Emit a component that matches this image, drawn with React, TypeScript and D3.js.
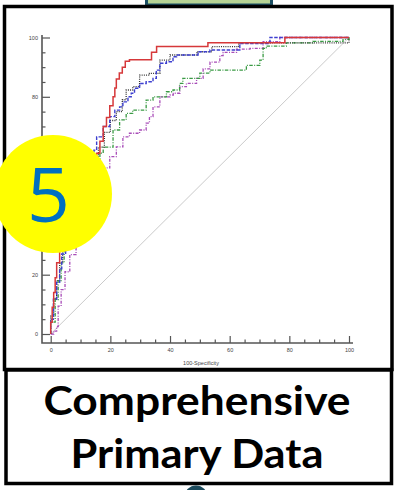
import { useEffect, useRef } from "react";
import * as d3 from "d3";

// ROC curves, [100-specificity, sensitivity]
const redCurve = [
    [0, 0], [0, 4], [0.5, 9], [1, 14], [1.5, 19], [2, 24], [3, 30], [4, 36], [5, 41], [6.5, 46],
    [8, 50], [10, 54], [12, 57], [14, 59], [15.4, 61], [16.5, 65], [17.6, 70], [18.7, 73],
    [19.8, 77], [20.9, 80], [21.5, 83], [22, 86], [23, 88], [24, 90], [25, 92], [26.4, 92.5],
    [33.8, 95], [35.5, 97], [52.7, 98.2], [78.5, 100], [100, 100]
];

const blueCurve = [
    [0, 0], [0, 5], [0.9, 11.7], [2, 17.4], [3, 22], [3.7, 27], [5, 33], [6, 38], [7.5, 43],
    [9, 48], [11, 53], [13, 58], [14.5, 62], [15.4, 66.5], [17.6, 70], [19.8, 73.3], [21.5, 75.5],
    [23.1, 76.6], [24.2, 78.3], [25.9, 80], [27, 81.2], [28.1, 82.9], [29.8, 84.5], [32, 85.1],
    [34.3, 86.2], [35.4, 89], [36.6, 91.3], [38.8, 91.8], [41, 93.5], [42.2, 94.1], [49.4, 95.2],
    [53.4, 95.8], [63.4, 98], [73.5, 100], [100, 100]
];

const blackCurve = [
    [0, 0], [0, 6], [1, 12], [2, 18], [3, 24], [4, 30], [5, 35], [6.5, 40], [8, 45], [10, 50],
    [12, 55], [14, 59], [16, 63], [18, 68], [20, 72], [22, 75], [24, 79], [25.3, 82.3],
    [27.5, 83.4], [29.8, 87.3], [33.1, 87.9], [36.6, 92.4], [40, 94.1], [49, 95.2], [54, 96.9],
    [63, 98.2], [98, 98.2], [100, 100]
];

const greenCurve = [
    [0, 0], [0, 4], [1.5, 11.6], [2.5, 18], [3.5, 24], [4.5, 30], [6, 36], [7.5, 42], [9, 47],
    [11, 52], [13, 56], [15, 59], [16.5, 61], [17.6, 63], [20.9, 68.8], [23.1, 72.2], [25.3, 74.4],
    [27.5, 75.5], [32, 78.9], [34.3, 80], [38.8, 81.7], [41, 82.3], [43.2, 84.5], [44.3, 86.2],
    [50, 88], [53.4, 89], [65.6, 90.6], [70.1, 92.4], [71.2, 96.3], [72.3, 97.1], [79, 98.2],
    [87.9, 98.7], [98, 99.4], [100, 100]
];

const purpleCurve = [
    [0, 0], [1, 1], [2, 2.5], [2.5, 9.4], [3.5, 15], [4.8, 21], [6.4, 26.8], [8.5, 31], [10, 38],
    [12, 44], [14, 49], [16, 53], [18, 56], [19.8, 59.8], [22, 63.1], [24.2, 66.5], [26.4, 67.7],
    [29.8, 68.8], [32, 71.1], [33.1, 73.3], [34.3, 76.6], [36.6, 80], [40, 80.6], [41.1, 81.2],
    [43.3, 83.4], [45.5, 84.5], [48.9, 86.2], [51.1, 89.4], [53.4, 91.7], [56.7, 93.9], [57.8, 95],
    [62.3, 96.1], [66.8, 96.3], [71.2, 98.6], [76.8, 100], [100, 100]
];

const diagonal = [[0, 0], [100, 100]];

const majorTicks = [0, 20, 40, 60, 80, 100];
const minorTicks = [5, 10, 15, 25, 30, 35, 45, 50, 55, 65, 70, 75, 85, 90, 95];
// y labels 40 and 60 sit under the yellow badge in the picture
const hiddenYLabels = [40, 60];

const xTitle = "100-Specificity";
const badge = "5";
const captionLines = ["Comprehensive", "Primary Data"];

export default function App() {
    const ref = useRef<HTMLDivElement>(null);

    useEffect(() => {
        const width = 396;
        const height = 490;

        const xScale = d3.scaleLinear().domain([0, 100]).range([50.7, 349]);
        const yScale = d3.scaleLinear().domain([0, 100]).range([334, 37.5]);

        const svg = d3.select(ref.current)
            .append("svg")
            .attr("width", width)
            .attr("height", height)
            .style("display", "block")
            .style("background", "#fff");

        // connector tab above the panel
        svg.append("rect")
            .attr("x", 146.5).attr("y", -6).attr("width", 125).attr("height", 11)
            .attr("fill", "#b6d395").attr("stroke", "#1b4f63").attr("stroke-width", 3);

        // connector below the caption
        svg.append("circle")
            .attr("cx", 196).attr("cy", 497).attr("r", 11.5)
            .attr("fill", "#1a4a5c");

        // panel frames
        svg.append("rect")
            .attr("x", 4.5).attr("y", 6.5).attr("width", 387.5).attr("height", 363)
            .attr("fill", "#fff").attr("stroke", "#000").attr("stroke-width", 3.5);
        svg.append("rect")
            .attr("x", 6).attr("y", 370).attr("width", 385.5).attr("height", 113.5)
            .attr("fill", "#fff").attr("stroke", "#000").attr("stroke-width", 3.5);

        const axisColor = "#555";
        const tickFont = "Liberation Sans, Arial, sans-serif";

        // y axis: major ticks with labels, minor ticks without
        const yMajor = svg.append("g")
            .attr("transform", "translate(42,0)")
            .call(d3.axisLeft(yScale)
                .tickValues(majorTicks)
                .tickSizeInner(-8).tickSizeOuter(0).tickPadding(4)
                .tickFormat(d => (hiddenYLabels.includes(+d) ? "" : String(d))));
        const yMinor = svg.append("g")
            .attr("transform", "translate(42,0)")
            .call(d3.axisLeft(yScale).tickValues(minorTicks).tickSizeInner(-3.5).tickSizeOuter(0).tickFormat(() => ""));

        // x axis, ticks pointing up
        const xMajor = svg.append("g")
            .attr("transform", "translate(0,343)")
            .call(d3.axisBottom(xScale).tickValues(majorTicks).tickSizeInner(-7).tickSizeOuter(0).tickPadding(5));
        const xMinor = svg.append("g")
            .attr("transform", "translate(0,343)")
            .call(d3.axisBottom(xScale).tickValues(minorTicks).tickSizeInner(-3.5).tickSizeOuter(0).tickFormat(() => ""));

        [yMajor, yMinor, xMajor, xMinor].forEach(g => {
            g.select(".domain").remove();
            g.selectAll("line").attr("stroke", axisColor).attr("stroke-width", 1.2);
            g.selectAll("text")
                .attr("fill", "#444")
                .attr("font-size", 5.5)
                .attr("font-family", tickFont);
        });

        // axis lines meeting in the corner
        svg.append("path")
            .attr("d", "M42,35V343H353")
            .attr("fill", "none")
            .attr("stroke", axisColor)
            .attr("stroke-width", 1.6);

        svg.append("text")
            .attr("x", 201).attr("y", 365)
            .attr("text-anchor", "middle")
            .attr("font-size", 5.5)
            .attr("font-family", tickFont)
            .attr("fill", "#444")
            .text(xTitle);

        const line = d3.line<number[]>()
            .x(d => xScale(d[0]))
            .y(d => yScale(d[1]));

        svg.append("path")
            .attr("d", line(diagonal))
            .attr("fill", "none")
            .attr("stroke", "#c4c4c4")
            .attr("stroke-width", 0.9);

        const stepLine = d3.line<number[]>()
            .x(d => xScale(d[0]))
            .y(d => yScale(d[1]))
            .curve(d3.curveStepAfter);

        const curves = [
            { points: purpleCurve, color: "#a84cb8", dash: "3,1.4,1,1.4", width: 1.3 },
            { points: greenCurve, color: "#3a9a44", dash: "3.5,1.4,1,1.4", width: 1.3 },
            { points: blackCurve, color: "#333", dash: "1,1.2", width: 1.3 },
            { points: blueCurve, color: "#3d3fd0", dash: "3.5,1.5", width: 1.4 },
            { points: redCurve, color: "#d6383a", dash: null, width: 1.5 },
        ];

        svg.append("g")
            .selectAll("path")
            .data(curves)
            .join("path")
            .attr("d", d => stepLine(d.points))
            .attr("fill", "none")
            .attr("stroke", d => d.color)
            .attr("stroke-width", d => d.width)
            .attr("stroke-dasharray", d => d.dash);

        // numbered badge
        svg.append("circle")
            .attr("cx", 53).attr("cy", 194).attr("r", 59)
            .attr("fill", "#ffff00");
        svg.append("text")
            .attr("x", 48.5).attr("y", 222)
            .attr("text-anchor", "middle")
            .attr("font-size", 75)
            .attr("font-family", "Open Sans, sans-serif")
            .attr("fill", "#0070c0")
            .text(badge);

        // caption
        svg.append("g")
            .selectAll("text")
            .data(captionLines)
            .join("text")
            .attr("x", 197)
            .attr("y", (d, i) => 415 + i * 53)
            .attr("text-anchor", "middle")
            .attr("font-size", 40)
            .attr("font-weight", 700)
            .attr("font-family", "Lato, sans-serif")
            .attr("fill", "#000")
            .attr("textLength", (d, i) => (i === 0 ? 307 : 253))
            .attr("lengthAdjust", "spacingAndGlyphs")
            .text(d => d);

        return () => {
            d3.select(ref.current).selectAll("*").remove();
        };
    }, []);

    return <div ref={ref} style={{ position: "absolute", left: 0, top: 0 }} />;
}
